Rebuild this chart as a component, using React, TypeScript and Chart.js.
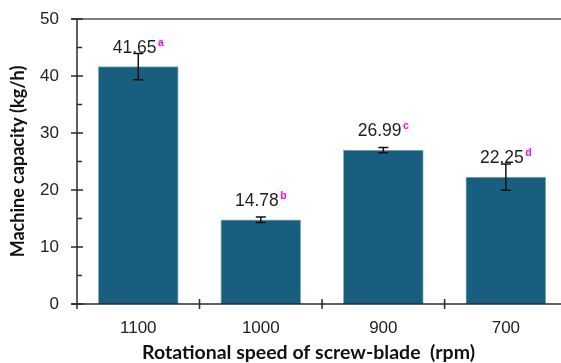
import React, { useEffect, useRef } from "react";
import { Chart, registerables } from "chart.js";

Chart.register(...registerables);

const categories = ["1100", "1000", "900", "700"];
const capacity = [41.65, 14.78, 26.99, 22.25];
const errors = [2.3, 0.5, 0.45, 2.3];
const letters = ["a", "b", "c", "d"];
const yMin = 0;
const yMax = 50;
const yStep = 10;
const xTitle = "Rotational speed of screw-blade  (rpm)";
const yTitle = "Machine capacity (kg/h)";

const BAR_COLOR = "#185E7E";
const AXIS_COLOR = "#2a2a2a";
const LABEL_FONT = "'Liberation Sans', Arial, sans-serif";
const TITLE_FONT = "Lato, 'Noto Sans', sans-serif";

const overlay = {
  id: "overlay",
  afterDraw(chart: any) {
    const ctx = chart.ctx as CanvasRenderingContext2D;
    const xs = chart.scales.x;
    const ys = chart.scales.y;
    const area = chart.chartArea;
    const W = chart.width;
    const y0 = ys.getPixelForValue(yMin);
    const yTop = ys.getPixelForValue(yMax);
    const axisX = area.left;

    ctx.save();
    // top line at max
    ctx.strokeStyle = "#555";
    ctx.lineWidth = 1.5;
    ctx.beginPath();
    ctx.moveTo(axisX - 6, yTop);
    ctx.lineTo(W, yTop);
    ctx.stroke();

    ctx.strokeStyle = AXIS_COLOR;
    ctx.lineWidth = 1.5;
    // y axis
    ctx.beginPath();
    ctx.moveTo(axisX, yTop);
    ctx.lineTo(axisX, y0 + 5);
    ctx.stroke();
    // x axis
    ctx.beginPath();
    ctx.moveTo(axisX - 6, y0);
    ctx.lineTo(W, y0);
    ctx.stroke();
    // y major ticks
    for (let v = yMin; v <= yMax; v += yStep) {
      const py = ys.getPixelForValue(v);
      ctx.beginPath();
      ctx.moveTo(axisX - 6, py);
      ctx.lineTo(axisX + 6, py);
      ctx.stroke();
    }
    // y minor ticks
    for (let v = yMin + yStep / 2; v < yMax; v += yStep) {
      const py = ys.getPixelForValue(v);
      ctx.beginPath();
      ctx.moveTo(axisX, py);
      ctx.lineTo(axisX + 5, py);
      ctx.stroke();
    }
    // x boundary ticks
    for (let i = 0; i < categories.length - 1; i++) {
      const px = xs.getPixelForValue(i + 0.5);
      ctx.beginPath();
      ctx.moveTo(px, y0 - 5);
      ctx.lineTo(px, y0 + 5);
      ctx.stroke();
    }

    // error bars and labels
    const meta = chart.getDatasetMeta(0);
    meta.data.forEach((bar: any, i: number) => {
      const cx = bar.x;
      const hi = ys.getPixelForValue(capacity[i] + errors[i]);
      const lo = ys.getPixelForValue(capacity[i] - errors[i]);
      ctx.strokeStyle = "#111";
      ctx.lineWidth = 1.5;
      ctx.beginPath();
      ctx.moveTo(cx, hi);
      ctx.lineTo(cx, lo);
      ctx.moveTo(cx - 5, hi);
      ctx.lineTo(cx + 5, hi);
      ctx.moveTo(cx - 5, lo);
      ctx.lineTo(cx + 5, lo);
      ctx.stroke();

      const baseline = ys.getPixelForValue(capacity[i]) - 14;
      const main = capacity[i].toFixed(2);
      ctx.font = `17.5px ${LABEL_FONT}`;
      const w1 = ctx.measureText(main).width;
      ctx.font = `bold 10.5px ${LABEL_FONT}`;
      const w2 = ctx.measureText(letters[i]).width;
      const gap = 1.5;
      const start = cx - (w1 + gap + w2) / 2;
      ctx.textAlign = "left";
      ctx.textBaseline = "alphabetic";
      ctx.fillStyle = "#1f1f1f";
      ctx.font = `17.5px ${LABEL_FONT}`;
      ctx.fillText(main, start, baseline);
      ctx.fillStyle = "#FF00FF";
      ctx.font = `bold 10.5px ${LABEL_FONT}`;
      ctx.fillText(letters[i], start + w1 + gap, baseline - 7);
    });

    // axis titles
    ctx.fillStyle = "#111";
    ctx.textAlign = "center";
    ctx.textBaseline = "alphabetic";
    ctx.font = `bold 19.5px ${TITLE_FONT}`;
    ctx.fillText(xTitle, 308.5, 358.5);

    ctx.save();
    ctx.font = `bold 18px ${TITLE_FONT}`;
    ctx.translate(24, (yTop + y0) / 2);
    ctx.rotate(-Math.PI / 2);
    ctx.fillText(yTitle, 0, 0);
    ctx.restore();

    ctx.restore();
  },
};

export default function App() {
  const ref = useRef<HTMLCanvasElement | null>(null);

  useEffect(() => {
    document.body.style.margin = "0";
    const canvas = ref.current;
    if (!canvas) return;
    const chart = new Chart(canvas, {
      type: "bar",
      data: {
        datasets: [
          {
            data: categories.map((_, i) => ({ x: i, y: capacity[i] })) as any,
            backgroundColor: BAR_COLOR,
            borderColor: "#8DB3C6",
            borderWidth: 1,
            barThickness: 80,
          },
        ],
      },
      options: {
        responsive: false,
        maintainAspectRatio: false,
        animation: false,
        layout: { padding: { top: 19, left: 0, right: 0, bottom: 0 } },
        plugins: {
          legend: { display: false },
          tooltip: { enabled: false },
        },
        scales: {
          x: {
            type: "linear",
            min: -0.5,
            max: 3.45,
            offset: false,
            grid: { display: false, drawTicks: false },
            border: { display: false },
            afterBuildTicks: (s: any) => {
              s.ticks = categories.map((_, i) => ({ value: i }));
            },
            afterFit: (s: any) => {
              s.height = 59;
              s.paddingLeft = 0;
              s.paddingRight = 0;
            },
            ticks: {
              callback: (v: any) => categories[Math.round(Number(v))] ?? "",
              font: { family: LABEL_FONT, size: 17 },
              color: "#222",
              padding: 14,
              maxRotation: 0,
              autoSkip: false,
            },
          },
          y: {
            min: yMin,
            max: yMax,
            grid: { display: false, drawTicks: false },
            border: { display: false },
            afterFit: (s: any) => {
              s.width = 77;
              s.paddingTop = 0;
              s.paddingBottom = 0;
            },
            ticks: {
              stepSize: yStep,
              font: { family: LABEL_FONT, size: 17 },
              color: "#222",
              padding: 18,
            },
          },
        },
      },
      plugins: [overlay],
    } as any);
    return () => chart.destroy();
  }, []);

  return (
    <div style={{ width: 561, height: 363, background: "#fff" }}>
      <canvas ref={ref} width={561} height={363} style={{ display: "block" }} />
    </div>
  );
}
